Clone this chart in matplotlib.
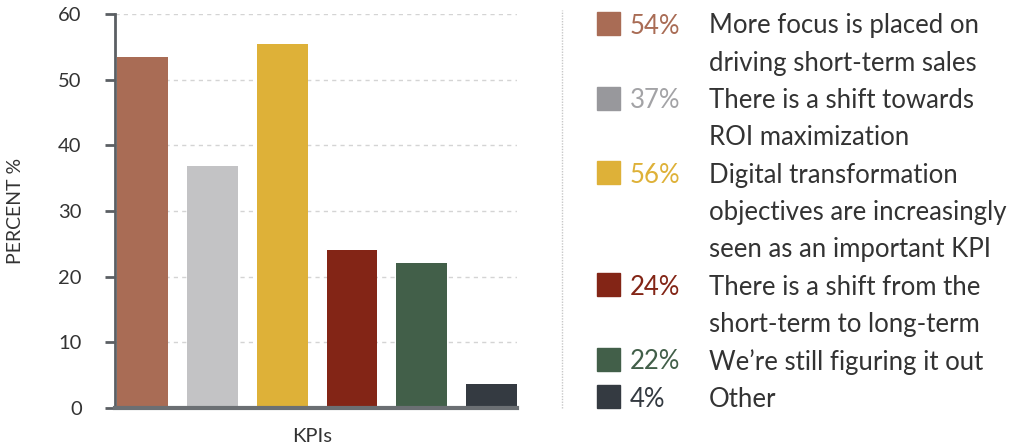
import matplotlib
matplotlib.use("Agg")
import matplotlib.pyplot as plt
from matplotlib.lines import Line2D
from matplotlib.patches import Rectangle

plt.rcParams['font.family'] = ['Lato', 'DejaVu Sans']

categories = ["More focus is placed on\ndriving short-term sales",
              "There is a shift towards\nROI maximization",
              "Digital transformation\nobjectives are increasingly\nseen as an important KPI",
              "There is a shift from the\nshort-term to long-term",
              "We\u2019re still figuring it out",
              "Other"]
values = [53.4, 36.8, 55.4, 24.0, 22.1, 3.7]
pct_labels = ["54%", "37%", "56%", "24%", "22%", "4%"]
bar_colors = ["#a96c55", "#c3c3c5", "#deb138", "#832516", "#425f49", "#343a41"]
swatch_colors = ["#a96c55", "#98989c", "#deb138", "#832516", "#425f49", "#343a41"]
pct_colors = ["#a96c55", "#a3a3a6", "#deb138", "#832516", "#425f49", "#343a41"]
yticks = [0, 10, 20, 30, 40, 50, 60]

W, H = 1018, 448
fig = plt.figure(figsize=(W / 100, H / 100), dpi=100)
ax = fig.add_axes([115 / W, 1 - 408 / H, (517 - 115) / W, (408 - 14) / H])

x = list(range(len(values)))
ax.bar(x, values, width=0.73, color=bar_colors, zorder=3)
ax.set_xlim(-0.40, 5.366)
ax.set_ylim(0, 60)
ax.set_yticks(yticks)
ax.set_xticks([])
ax.yaxis.grid(True, linestyle=(0, (3, 3)), color="#d4d4d4", linewidth=1, zorder=0)
for s in ["top", "right"]:
    ax.spines[s].set_visible(False)
ax.spines["left"].set_color("#5b5f63")
ax.spines["left"].set_linewidth(2)
ax.spines["bottom"].set_color("#6b6f73")
ax.spines["bottom"].set_linewidth(3)
ax.spines["bottom"].set_zorder(4)
ax.tick_params(axis="y", length=7, width=2, color="#5b5f63", labelsize=14.5,
               labelcolor="#333333", pad=17)
ax.set_ylabel("PERCENT %", fontsize=14, color="#333333")
ax.yaxis.set_label_coords(-(115 - 24) / 402, 0.5)
ax.set_xlabel("KPIs", fontsize=14.5, color="#333333")
ax.xaxis.set_label_coords(0.49, -(428 - 408) / 394)

# separator
fig.add_artist(Line2D([562 / W, 562 / W], [1 - 408 / H, 1 - 10 / H], transform=fig.transFigure,
                      linestyle=(0, (1, 1)), color="#c8c8c8", linewidth=1))

# legend
line_h = 37.3
y0 = 23.5
txt_off = 2.5
k = 0
for cat, pct, sc, pc in zip(categories, pct_labels, swatch_colors, pct_colors):
    yc = y0 + line_h * k
    fig.add_artist(Rectangle((597 / W, 1 - (yc + 11.5) / H), 23 / W, 23 / H,
                             transform=fig.transFigure, color=sc))
    fig.text(630 / W, 1 - (yc + txt_off) / H, pct, color=pc, fontsize=18.5,
             va="center", ha="left")
    for line in cat.split("\n"):
        fig.text(709 / W, 1 - (y0 + line_h * k + txt_off) / H, line, color="#333333",
                 fontsize=18.5, va="center", ha="left")
        k += 1

fig.savefig("out.png", dpi=100)
